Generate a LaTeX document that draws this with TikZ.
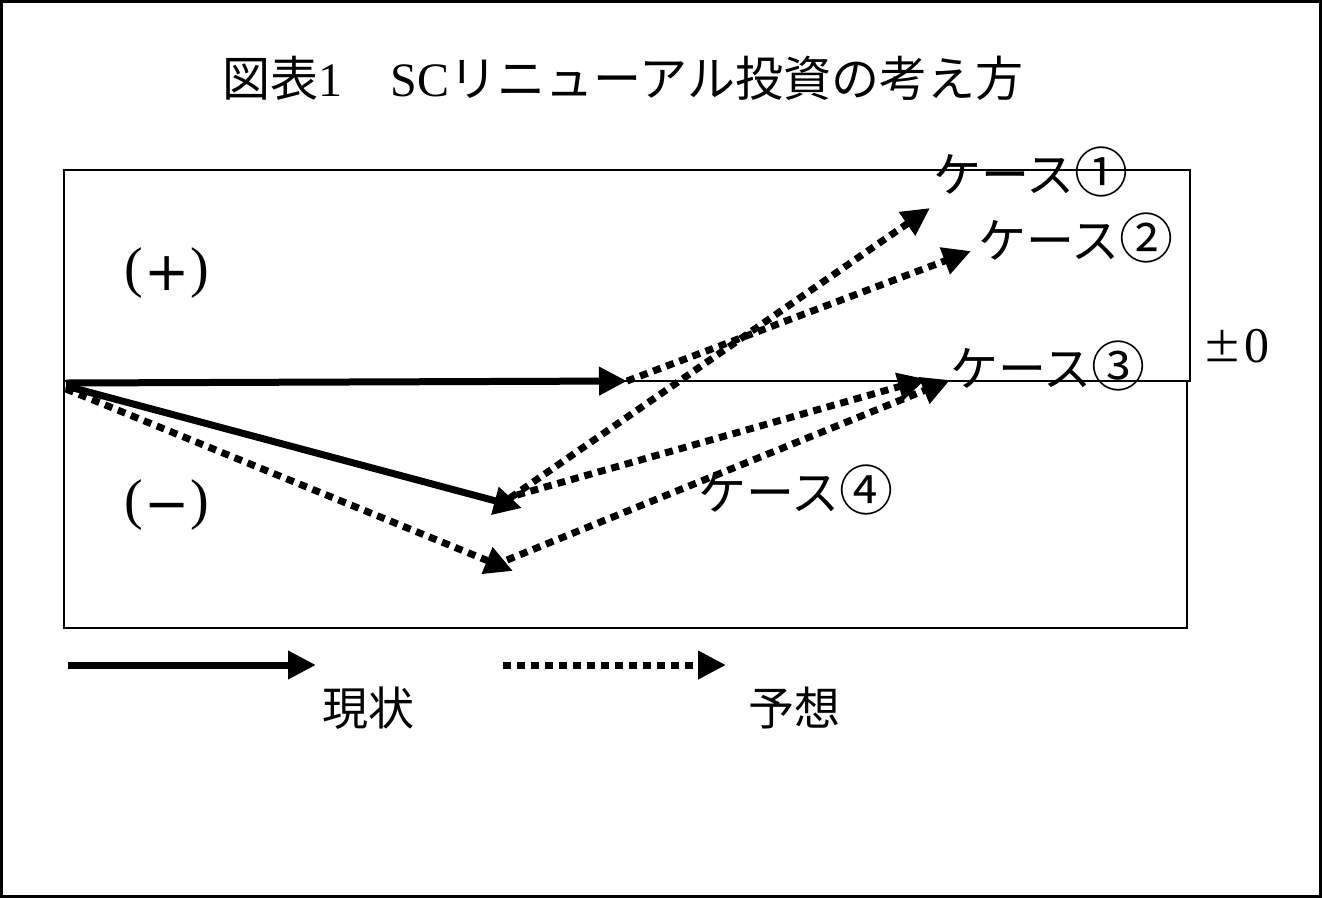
\documentclass[tikz,border=0pt]{standalone}
\usepackage{fontspec}
\setmainfont{Liberation Serif}
\newfontfamily\cjk{Noto Sans CJK JP}
\newfontfamily\dvs{DejaVu Sans}
\usetikzlibrary{arrows.meta}
\newcommand{\cdig}[1]{{\fontsize{54}{58}\selectfont #1}}
\newcommand{\bigsym}[1]{{\cjk\fontsize{40}{44}\selectfont #1}}
\newcommand{\opsym}[1]{\raisebox{-4pt}{\dvs\fontsize{54}{58}\selectfont #1}}
\begin{document}
\begin{tikzpicture}[x=1pt,y=-1pt,
  frame/.style={draw=black,line width=2pt},
  cur/.style={line width=7pt,-{Triangle[length=28pt,width=27pt]}},
  fut/.style={line width=7pt,dash pattern=on 8pt off 6pt,-{Triangle[length=28pt,width=27pt]}},
  lab/.style={inner sep=0pt,font=\cjk\fontsize{48}{52}\selectfont},
  sym/.style={inner sep=0pt,font=\fontsize{56}{60}\selectfont}]
\useasboundingbox (0,0) rectangle (1322,898);
\draw[line width=3pt] (1.5,1.5) rectangle (1320.5,896.5);
% boxes
\draw[frame] (64,170) rectangle (1190,381);
\draw[frame] (64,381) rectangle (1187,628);
% title
\node[inner sep=0pt,font=\fontsize{48}{52}\selectfont] (title) at (623,78)
  {{\cjk 図表}1{\cjk 　}SC{\cjk リニューアル投資の考え方}};
% coordinates
\coordinate (O1) at (66,383);
\coordinate (O2) at (66,386);
\coordinate (O3) at (66,389);
\coordinate (A) at (627,381);
\coordinate (B) at (522,508);
\coordinate (C) at (513,571);
\coordinate (Bs1) at (510,498);
\coordinate (Bs2) at (517,495);
\coordinate (Cs) at (507,560);
\coordinate (E1) at (930,208);
\coordinate (E2) at (971,251);
\coordinate (E3) at (926,379);
\coordinate (E4) at (950,380);
% current arrows
\draw[cur] (O1) -- (A);
\draw[cur] (O2) -- (B);
% forecast arrows
\draw[fut] (O3) -- (C);
\draw[fut] (A) -- (E2);
\draw[fut] (Bs1) -- (E1);
\draw[fut] (Bs2) -- (E3);
\draw[fut] (Cs) -- (E4);
% labels
\node[lab] (c1) at (1031,172) {ケース\cdig{①}};
\node[lab] (c2) at (1076,238) {ケース\cdig{②}};
\node[lab] (c3) at (1048,366) {ケース\cdig{③}};
\node[lab] (c4) at (796,490) {ケース\cdig{④}};
\node[sym] (plus) at (167,273) {(\hspace{1pt}\opsym{+}\hspace{1pt})};
\node[sym] (minus) at (167,505) {(\hspace{1pt}\opsym{−}\hspace{1pt})};
\node[sym,font=\fontsize{50}{54}\selectfont] (zero) at (1236,346) {\bigsym{±}\hspace{2pt}0};
% legend
\coordinate (L1s) at (68,665);
\coordinate (L1e) at (316,665);
\coordinate (L2s) at (503,665);
\coordinate (L2e) at (726,665);
\draw[cur] (L1s) -- (L1e);
\draw[fut] (L2s) -- (L2e);
\node[lab,font=\cjk\fontsize{46}{50}\selectfont] (now) at (368,708) {現状};
\node[lab,font=\cjk\fontsize{46}{50}\selectfont] (fc) at (794,708) {予想};
\end{tikzpicture}
\end{document}
